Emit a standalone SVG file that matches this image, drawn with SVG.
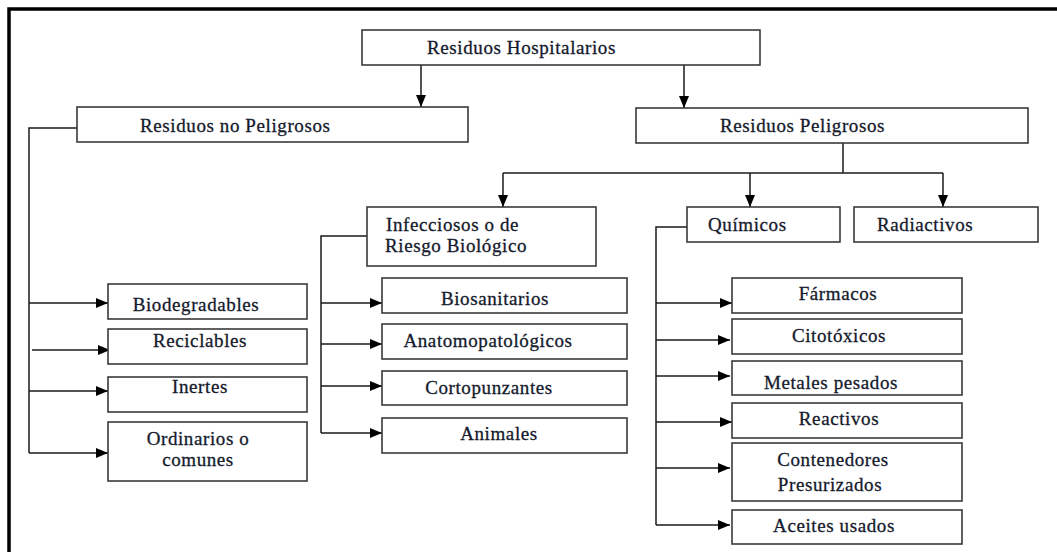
<svg xmlns="http://www.w3.org/2000/svg" width="1057" height="552" viewBox="0 0 1057 552">
  <style>
    .box { fill: #fff; stroke: #3a3a3a; stroke-width: 1.6; }
    .lbl { font-family: 'Liberation Serif', 'DejaVu Serif', 'Times New Roman', serif; font-size: 19px; letter-spacing: 0.6px; fill: #151a2c; stroke: #151a2c; stroke-width: 0.3; }
    .mid { text-anchor: middle; }
    .wire { fill: none; stroke: #1a1a1a; stroke-width: 1.5; }
    .frame { fill: none; stroke: #000; stroke-width: 3.5; }
  </style>
  <defs>
    <marker id="arrow" viewBox="0 0 12 10" refX="12" refY="5" markerWidth="12" markerHeight="10" markerUnits="userSpaceOnUse" orient="auto">
      <path d="M0,0 L12,5 L0,10 Z" fill="#000"/>
    </marker>
  </defs>

  <rect width="1057" height="552" fill="#fff"/>
  <!-- page frame (top and left edges) -->
  <path class="frame" d="M9,552 V9 H1057"/>

  <g id="connectors">
    <!-- root to the two main categories -->
    <path class="wire" d="M421,65 V107" marker-end="url(#arrow)"/>
    <path class="wire" d="M684,65 V108" marker-end="url(#arrow)"/>
    <!-- non-hazardous branch -->
    <path class="wire" d="M77,128 H29 V453"/>
    <path class="wire" d="M29,303 H108" marker-end="url(#arrow)"/>
    <path class="wire" d="M32,350 H110" marker-end="url(#arrow)"/>
    <path class="wire" d="M29,391 H108" marker-end="url(#arrow)"/>
    <path class="wire" d="M29,453 H108" marker-end="url(#arrow)"/>
    <!-- hazardous branch -->
    <path class="wire" d="M843,143 V173"/>
    <path class="wire" d="M503,173 H943"/>
    <path class="wire" d="M503,173 V207" marker-end="url(#arrow)"/>
    <path class="wire" d="M750,173 V207" marker-end="url(#arrow)"/>
    <path class="wire" d="M943,173 V207" marker-end="url(#arrow)"/>
    <!-- infectious sub-branch -->
    <path class="wire" d="M367,236 H321 V433"/>
    <path class="wire" d="M321,303 H382" marker-end="url(#arrow)"/>
    <path class="wire" d="M321,344 H382" marker-end="url(#arrow)"/>
    <path class="wire" d="M321,386 H382" marker-end="url(#arrow)"/>
    <path class="wire" d="M321,433 H382" marker-end="url(#arrow)"/>
    <!-- chemical sub-branch -->
    <path class="wire" d="M687,227 H656 V525"/>
    <path class="wire" d="M656,303 H732" marker-end="url(#arrow)"/>
    <path class="wire" d="M656,340 H730" marker-end="url(#arrow)"/>
    <path class="wire" d="M656,376 H730" marker-end="url(#arrow)"/>
    <path class="wire" d="M656,422 H732" marker-end="url(#arrow)"/>
    <path class="wire" d="M656,468 H730" marker-end="url(#arrow)"/>
    <path class="wire" d="M656,525 H730" marker-end="url(#arrow)"/>
  </g>

  <g id="n-root">
    <rect class="box" x="362" y="30" width="398" height="35"/>
    <text class="lbl" x="427" y="54">Residuos Hospitalarios</text>
  </g>
  <g id="n-no-peligrosos">
    <rect class="box" x="77" y="107" width="391" height="35"/>
    <text class="lbl" x="140" y="132">Residuos no Peligrosos</text>
  </g>
  <g id="n-peligrosos">
    <rect class="box" x="636" y="108" width="392" height="35"/>
    <text class="lbl" x="720" y="132">Residuos Peligrosos</text>
  </g>

  <g id="n-biodegradables">
    <rect class="box" x="108" y="284" width="199" height="35"/>
    <text class="lbl mid" x="196" y="311">Biodegradables</text>
  </g>
  <g id="n-reciclables">
    <rect class="box" x="108" y="329" width="199" height="35"/>
    <text class="lbl mid" x="200" y="347">Reciclables</text>
  </g>
  <g id="n-inertes">
    <rect class="box" x="108" y="377" width="199" height="35"/>
    <text class="lbl mid" x="200" y="393">Inertes</text>
  </g>
  <g id="n-ordinarios">
    <rect class="box" x="108" y="422" width="199" height="59"/>
    <text class="lbl mid" x="198" y="445">Ordinarios o</text>
    <text class="lbl mid" x="198" y="466">comunes</text>
  </g>

  <g id="n-infecciosos">
    <rect class="box" x="367" y="207" width="229" height="59"/>
    <text class="lbl" x="386" y="231">Infecciosos o de</text>
    <text class="lbl" x="385" y="252">Riesgo Biológico</text>
  </g>
  <g id="n-biosanitarios">
    <rect class="box" x="382" y="278" width="245" height="35"/>
    <text class="lbl mid" x="495" y="305">Biosanitarios</text>
  </g>
  <g id="n-anatomopatologicos">
    <rect class="box" x="382" y="324" width="245" height="35"/>
    <text class="lbl mid" x="488" y="347">Anatomopatológicos</text>
  </g>
  <g id="n-cortopunzantes">
    <rect class="box" x="382" y="371" width="245" height="34"/>
    <text class="lbl mid" x="489" y="394">Cortopunzantes</text>
  </g>
  <g id="n-animales">
    <rect class="box" x="382" y="418" width="245" height="35"/>
    <text class="lbl mid" x="499" y="440">Animales</text>
  </g>

  <g id="n-quimicos">
    <rect class="box" x="687" y="207" width="153" height="35"/>
    <text class="lbl" x="708" y="231">Químicos</text>
  </g>
  <g id="n-radiactivos">
    <rect class="box" x="854" y="207" width="184" height="35"/>
    <text class="lbl" x="877" y="231">Radiactivos</text>
  </g>

  <g id="n-farmacos">
    <rect class="box" x="732" y="278" width="230" height="35"/>
    <text class="lbl mid" x="838" y="300">Fármacos</text>
  </g>
  <g id="n-citotoxicos">
    <rect class="box" x="732" y="319" width="230" height="35"/>
    <text class="lbl mid" x="839" y="342">Citotóxicos</text>
  </g>
  <g id="n-metales">
    <rect class="box" x="732" y="361" width="230" height="34"/>
    <text class="lbl mid" x="831" y="389">Metales pesados</text>
  </g>
  <g id="n-reactivos">
    <rect class="box" x="732" y="403" width="230" height="35"/>
    <text class="lbl mid" x="839" y="425">Reactivos</text>
  </g>
  <g id="n-contenedores">
    <rect class="box" x="732" y="443" width="230" height="58"/>
    <text class="lbl mid" x="833" y="466">Contenedores</text>
    <text class="lbl mid" x="830" y="491">Presurizados</text>
  </g>
  <g id="n-aceites">
    <rect class="box" x="732" y="510" width="230" height="34"/>
    <text class="lbl mid" x="834" y="532">Aceites usados</text>
  </g>
</svg>
